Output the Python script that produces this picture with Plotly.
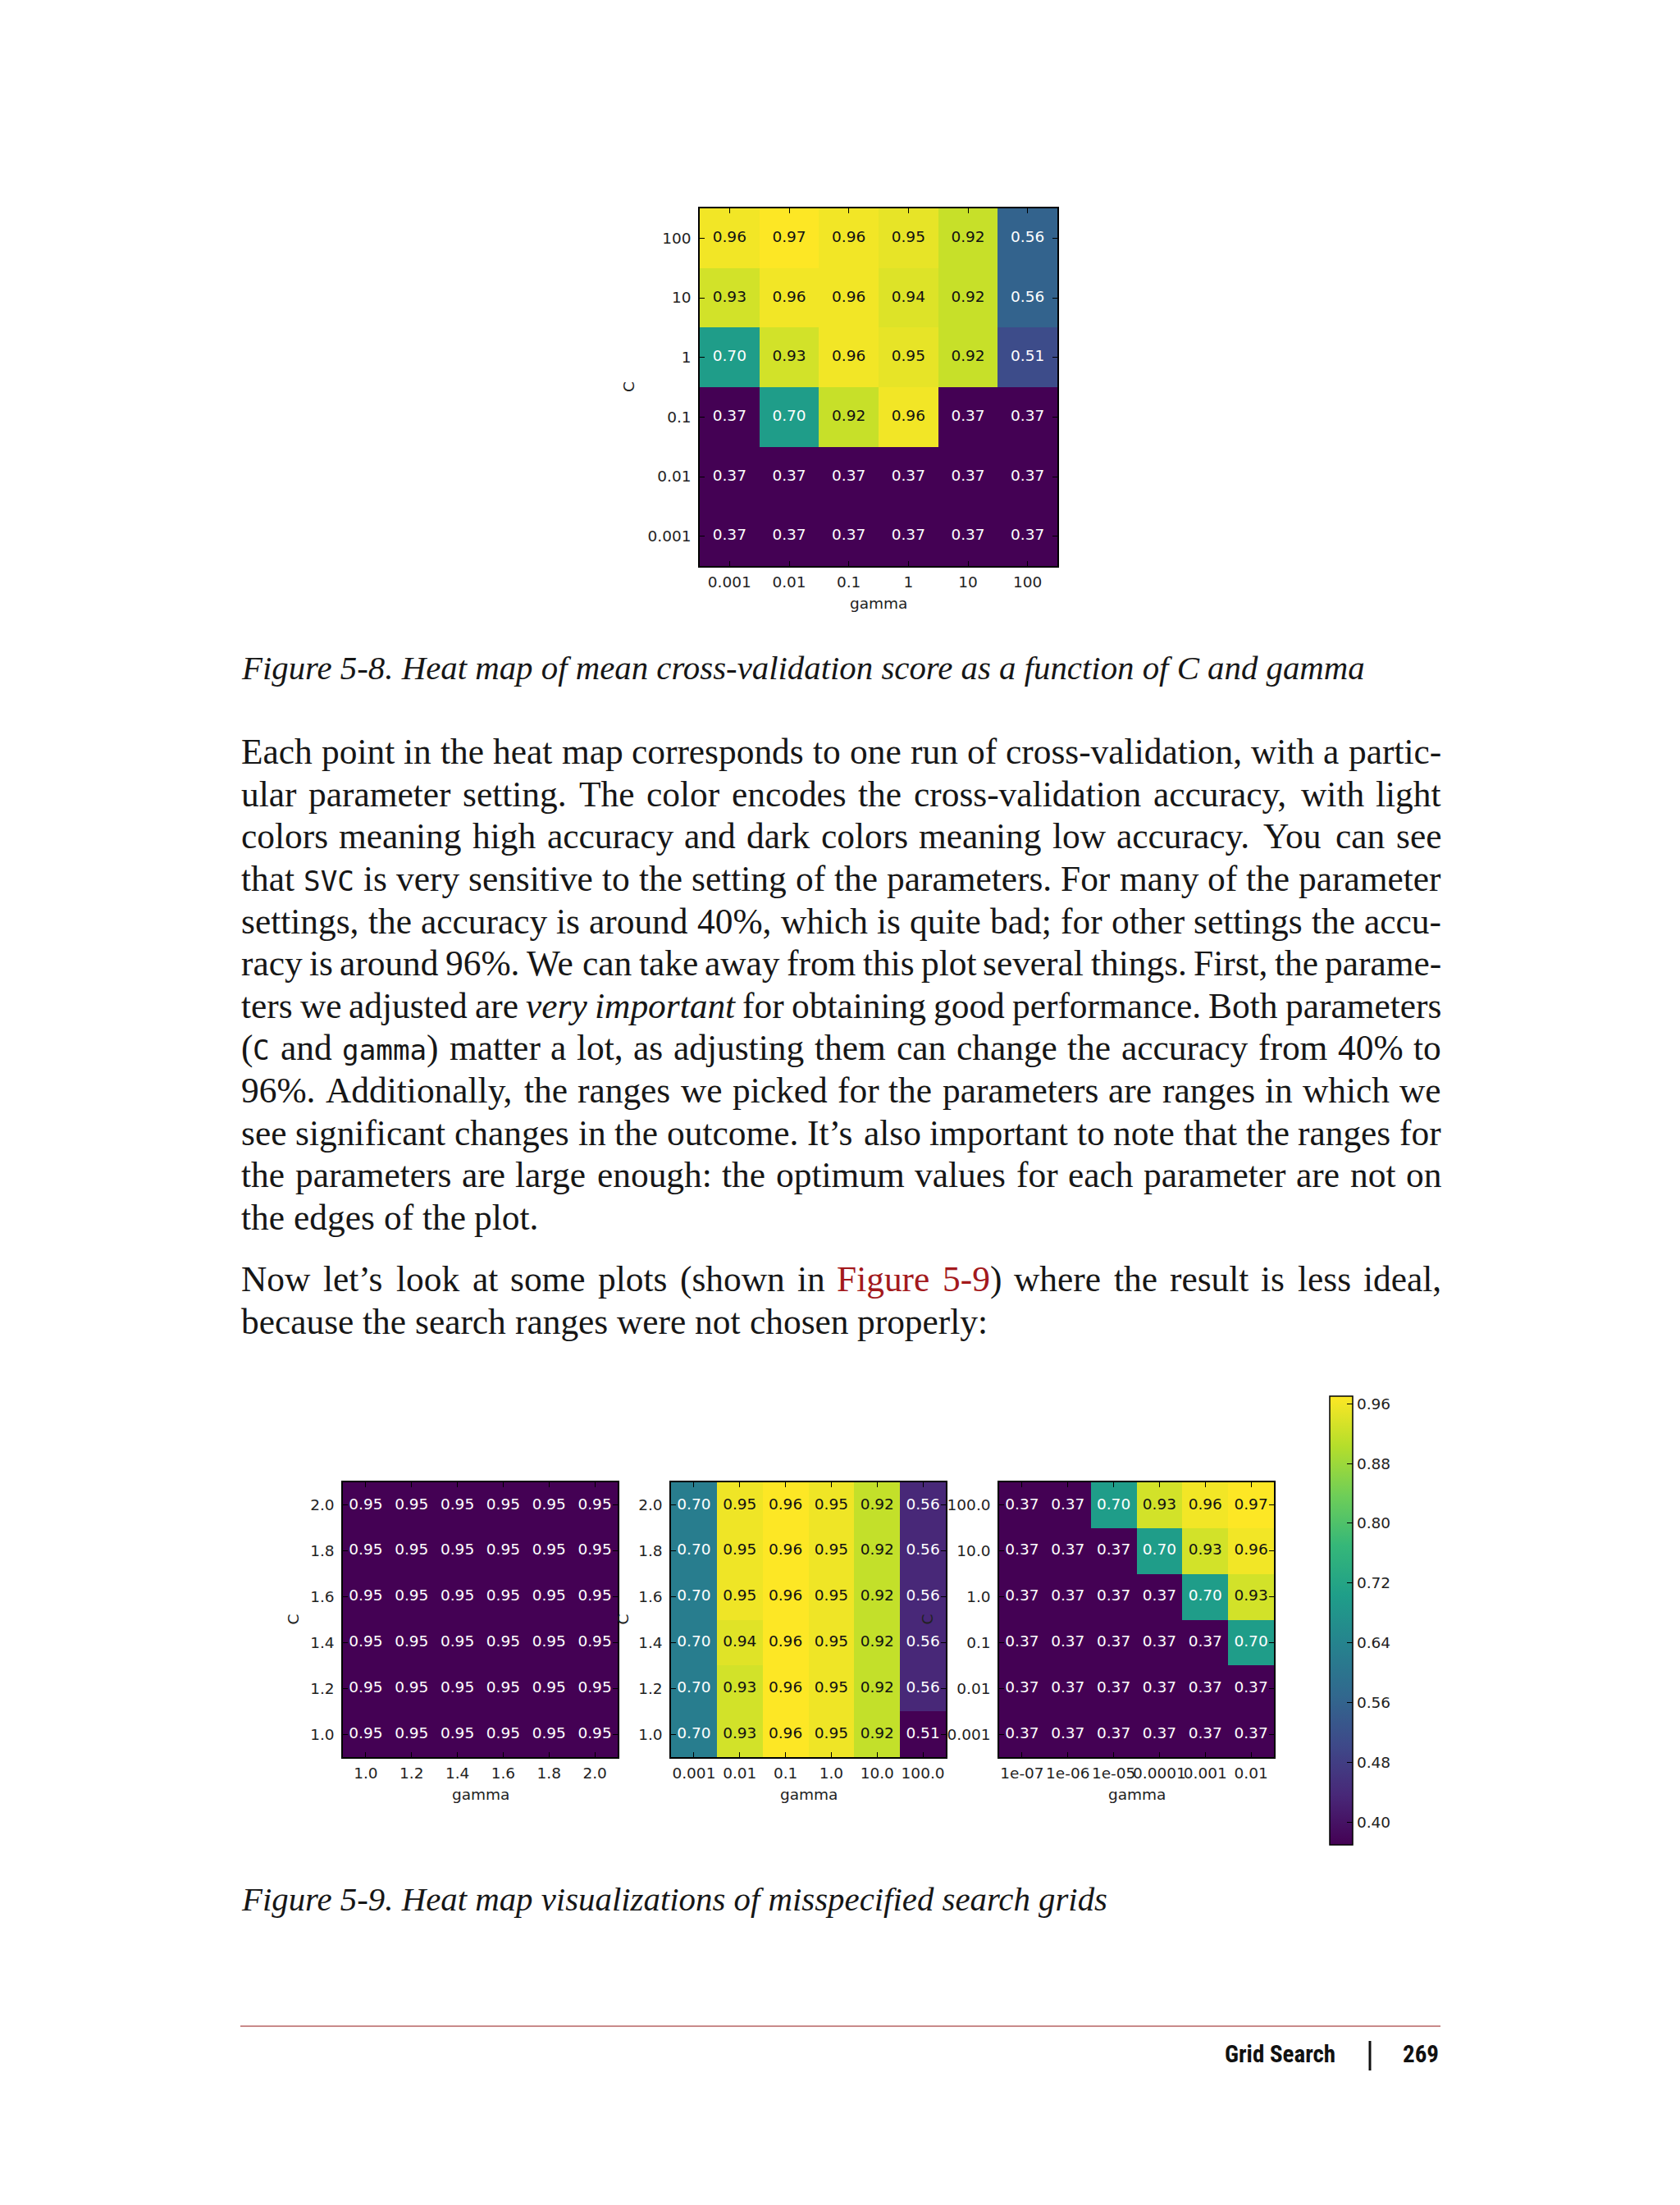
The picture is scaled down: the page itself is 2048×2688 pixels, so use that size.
import plotly.graph_objects as go
from plotly.colors import sample_colorscale

W, H = 2048, 2688
DX, DY = -8, -7   # global page offset in pixels

# ---------------- data ----------------
top_gamma = ["0.001", "0.01", "0.1", "1", "10", "100"]
top_C = ["0.001", "0.01", "0.1", "1", "10", "100"]          # bottom -> top
top_scores = [
    [0.37, 0.37, 0.37, 0.37, 0.37, 0.37],
    [0.37, 0.37, 0.37, 0.37, 0.37, 0.37],
    [0.37, 0.70, 0.92, 0.96, 0.37, 0.37],
    [0.70, 0.93, 0.96, 0.95, 0.92, 0.51],
    [0.93, 0.96, 0.96, 0.94, 0.92, 0.56],
    [0.96, 0.97, 0.96, 0.95, 0.92, 0.56],
]

lin_gamma = ["1.0", "1.2", "1.4", "1.6", "1.8", "2.0"]
lin_C = ["1.0", "1.2", "1.4", "1.6", "1.8", "2.0"]
lin_scores = [
    [0.95, 0.95, 0.95, 0.95, 0.95, 0.95],
    [0.95, 0.95, 0.95, 0.95, 0.95, 0.95],
    [0.95, 0.95, 0.95, 0.95, 0.95, 0.95],
    [0.95, 0.95, 0.95, 0.95, 0.95, 0.95],
    [0.95, 0.95, 0.95, 0.95, 0.95, 0.95],
    [0.95, 0.95, 0.95, 0.95, 0.95, 0.95],
]

mid_gamma = ["0.001", "0.01", "0.1", "1.0", "10.0", "100.0"]
mid_C = ["1.0", "1.2", "1.4", "1.6", "1.8", "2.0"]
mid_scores = [
    [0.70, 0.93, 0.96, 0.95, 0.92, 0.51],
    [0.70, 0.93, 0.96, 0.95, 0.92, 0.56],
    [0.70, 0.94, 0.96, 0.95, 0.92, 0.56],
    [0.70, 0.95, 0.96, 0.95, 0.92, 0.56],
    [0.70, 0.95, 0.96, 0.95, 0.92, 0.56],
    [0.70, 0.95, 0.96, 0.95, 0.92, 0.56],
]

log_gamma = ["1e-07", "1e-06", "1e-05", "0.0001", "0.001", "0.01"]
log_C = ["0.001", "0.01", "0.1", "1.0", "10.0", "100.0"]
log_scores = [
    [0.37, 0.37, 0.37, 0.37, 0.37, 0.37],
    [0.37, 0.37, 0.37, 0.37, 0.37, 0.37],
    [0.37, 0.37, 0.37, 0.37, 0.37, 0.70],
    [0.37, 0.37, 0.37, 0.37, 0.70, 0.93],
    [0.37, 0.37, 0.37, 0.70, 0.93, 0.96],
    [0.37, 0.37, 0.70, 0.93, 0.96, 0.97],
]

cbar_ticks = [0.40, 0.48, 0.56, 0.64, 0.72, 0.80, 0.88, 0.96]

caption1 = "Figure 5-8. Heat map of mean cross-validation score as a function of C and gamma"
caption2 = "Figure 5-9. Heat map visualizations of misspecified search grids"

para1 = [
    "Each point in the heat map corresponds to one run of cross-validation, with a partic-",
    "ular parameter setting. The color encodes the cross-validation accuracy, with light",
    "colors meaning high accuracy and dark colors meaning low accuracy. You can see",
    "that `SVC` is very sensitive to the setting of the parameters. For many of the parameter",
    "settings, the accuracy is around 40%, which is quite bad; for other settings the accu-",
    "racy is around 96%. We can take away from this plot several things. First, the parame-",
    "ters we adjusted are *very important* for obtaining good performance. Both parameters",
    "(`C` and `gamma`) matter a lot, as adjusting them can change the accuracy from 40% to",
    "96%. Additionally, the ranges we picked for the parameters are ranges in which we",
    "see significant changes in the outcome. It\u2019s also important to note that the ranges for",
    "the parameters are large enough: the optimum values for each parameter are not on",
    "the edges of the plot.",
]
para2 = [
    "Now let\u2019s look at some plots (shown in [Figure 5-9]) where the result is less ideal,",
    "because the search ranges were not chosen properly:",
]

footer_title = "Grid Search"
footer_page = "269"

# ---------------- helpers ----------------
def px(x):
    return (x + DX) / W


def py(y):
    return 1 - (y + DY) / H


TR = {' ': 250, '%': 833, '(': 333, ')': 333, ',': 250, '-': 333, '.': 250, ':': 278,
      ';': 278, '\u2019': 333, "'": 180,
      'A': 722, 'B': 667, 'C': 667, 'D': 722, 'E': 611, 'F': 556, 'G': 722, 'H': 722,
      'I': 333, 'J': 389, 'K': 722, 'L': 611, 'M': 889, 'N': 722, 'O': 722, 'P': 556,
      'Q': 722, 'R': 667, 'S': 556, 'T': 611, 'U': 722, 'V': 722, 'W': 944, 'X': 722,
      'Y': 722, 'Z': 611,
      'a': 444, 'b': 500, 'c': 444, 'd': 500, 'e': 444, 'f': 333, 'g': 500, 'h': 500,
      'i': 278, 'j': 278, 'k': 500, 'l': 278, 'm': 778, 'n': 500, 'o': 500, 'p': 500,
      'q': 500, 'r': 333, 's': 389, 't': 278, 'u': 500, 'v': 500, 'w': 722, 'x': 500,
      'y': 500, 'z': 444}
TI = {' ': 250, ',': 250, '-': 333, '.': 250, 'C': 667, 'F': 611, 'H': 722,
      'a': 500, 'b': 500, 'c': 444, 'd': 500, 'e': 444, 'f': 278, 'g': 500, 'h': 500,
      'i': 278, 'j': 278, 'k': 444, 'l': 278, 'm': 722, 'n': 500, 'o': 500, 'p': 500,
      'q': 500, 'r': 389, 's': 389, 't': 278, 'u': 500, 'v': 444, 'w': 667, 'x': 444,
      'y': 444, 'z': 389}
MONO_RATIO = 0.79
MONO_UNITS = 602 * MONO_RATIO


def units(text, mono=False, ital=False):
    if mono:
        return MONO_UNITS * len(text)
    tab = TI if ital else TR
    return sum(tab.get(ch, 500) for ch in text)


def parse_line(line, state):
    words = []
    for w in line.split(' '):
        runs = []
        cur = ''
        for ch in w:
            if ch in '`*[]':
                if cur:
                    runs.append((tuple(state), cur))
                    cur = ''
                if ch == '`':
                    state[0] = not state[0]
                elif ch == '*':
                    state[1] = not state[1]
                elif ch == '[':
                    state[2] = True
                else:
                    state[2] = False
            else:
                cur += ch
        if cur:
            runs.append((tuple(state), cur))
        words.append(runs)
    return words


def text_color(v, lo, hi):
    t = 0.0 if hi <= lo else (v - lo) / (hi - lo)
    c = sample_colorscale('Viridis', [max(0.0, min(1.0, t))])[0]
    r, g, b = [float(s) for s in c[c.index('(') + 1:-1].split(',')]
    return '#111111' if (r + g + b) / 3 > 127.5 else '#ffffff'


fig = go.Figure()
annotations = []
shapes = []

TICKFONT = dict(family='DejaVu Sans', size=18.5, color='#222222')

panels = [
    dict(g=top_gamma, c=top_C, z=top_scores, box=(853, 253, 1289, 689), gy=735, cx=766, cbar=False),
    dict(g=lin_gamma, c=lin_C, z=lin_scores, box=(418, 1806, 753, 2141), gy=2186, cx=357, cbar=False),
    dict(g=mid_gamma, c=mid_C, z=mid_scores, box=(818, 1806, 1153, 2141), gy=2186, cx=759, cbar=False),
    dict(g=log_gamma, c=log_C, z=log_scores, box=(1218, 1806, 1553, 2141), gy=2186, cx=1130, cbar=True),
]

layout_axes = {}
for i, p in enumerate(panels):
    sfx = '' if i == 0 else str(i + 1)
    x0, y0, x1, y1 = p['box']
    flat = [v for row in p['z'] for v in row]
    lo, hi = min(flat), max(flat)
    zmax = hi if hi > lo else lo + 1e-9
    hm = dict(z=p['z'], x=p['g'], y=p['c'], colorscale='Viridis', zmin=lo, zmax=zmax,
              xaxis='x' + sfx, yaxis='y' + sfx, hoverinfo='skip', showscale=p['cbar'])
    if p['cbar']:
        hm['colorbar'] = dict(
            x=px(1621), xanchor='left', y=py((1701 + 2248) / 2), yanchor='middle',
            len=547, lenmode='pixels', thickness=28, thicknessmode='pixels',
            xpad=0, ypad=0, outlinewidth=1.5, outlinecolor='black', borderwidth=0,
            ticks='inside', ticklen=7, tickwidth=1.2, tickcolor='black',
            tickvals=cbar_ticks, ticktext=[f"{t:.2f}" for t in cbar_ticks],
            tickfont=TICKFONT)
    fig.add_trace(go.Heatmap(**hm))

    xs, ys, ts, cs = [], [], [], []
    for r, cval in enumerate(p['c']):
        for k, gval in enumerate(p['g']):
            v = p['z'][r][k]
            xs.append(gval)
            ys.append(cval)
            ts.append(f"{v:.2f}")
            cs.append(text_color(v, lo, zmax))
    fig.add_trace(go.Scatter(x=xs, y=ys, text=ts, mode='text', textposition='middle center',
                             textfont=dict(family='DejaVu Sans', size=18.5, color=cs),
                             xaxis='x' + sfx, yaxis='y' + sfx, hoverinfo='skip',
                             showlegend=False))

    common = dict(type='category', categoryorder='array', range=[-0.5, 5.5],
                  showline=True, linecolor='black', linewidth=1.5, mirror='ticks',
                  ticks='inside', ticklen=6, tickwidth=1.2, tickcolor='black',
                  showgrid=False, zeroline=False, tickangle=0, tickfont=TICKFONT,
                  fixedrange=True)
    layout_axes['xaxis' + sfx] = dict(common, categoryarray=p['g'], domain=[px(x0), px(x1)],
                                      anchor='y' + sfx, ticklabelstandoff=2)
    layout_axes['yaxis' + sfx] = dict(common, categoryarray=p['c'], domain=[py(y1), py(y0)],
                                      anchor='x' + sfx, ticklabelstandoff=5)

    annotations.append(dict(x=px((x0 + x1) / 2), y=py(p['gy']), xref='paper', yref='paper',
                            text='gamma', showarrow=False, xanchor='center', yanchor='middle',
                            font=dict(family='DejaVu Sans', size=18.5, color='#222222')))
    annotations.append(dict(x=px(p['cx']), y=py((y0 + y1) / 2), xref='paper', yref='paper',
                            text='C', showarrow=False, xanchor='center', yanchor='middle',
                            textangle=-90,
                            font=dict(family='DejaVu Sans', size=18.5, color='#222222')))

# ---------------- body text (justified, word by word) ----------------
LEFT, RIGHT = 293, 1756
LINE_W = RIGHT - LEFT
SERIF = 'Liberation Serif, Times New Roman, serif'
MONO = 'DejaVu Sans Mono, monospace'
TEXT_COL = '#161616'
LINK_COL = '#a3191c'

state = [False, False, False]
parsed = []
for para, y_first, step in ((para1, 920, 51.6), (para2, 1563, 51.6)):
    for j, line in enumerate(para):
        words = parse_line(line, state)
        parsed.append((words, y_first + step * j, j < len(para) - 1))


def word_units(runs):
    return sum(units(t, mono=s[0], ital=s[1]) for s, t in runs)


fs_cands = [44.0]
for words, _, just in parsed:
    if just:
        tot = sum(word_units(w) for w in words)
        fs_cands.append(LINE_W * 1000 / (tot + 190 * (len(words) - 1)))
FS = min(fs_cands)
FS_M = FS * MONO_RATIO

for words, yc, just in parsed:
    widths = [word_units(w) * FS / 1000 for w in words]
    gap = (LINE_W - sum(widths)) / (len(words) - 1) if just else 0.25 * FS
    x = LEFT
    ybox = yc - 0.11 * FS
    for runs, wdt in zip(words, widths):
        for s, t in runs:
            mono, ital, link = s
            txt = f"<i>{t}</i>" if ital else t
            annotations.append(dict(
                x=px(x), y=py(ybox), xref='paper', yref='paper', text=txt,
                showarrow=False, xanchor='left', yanchor='middle', borderpad=0,
                yshift=-(FS - FS_M) * 0.3 if mono else 0,
                font=dict(family=MONO if mono else SERIF, size=FS_M if mono else FS,
                          color=LINK_COL if link else TEXT_COL)))
            x += units(t, mono=mono, ital=ital) * FS / 1000
        x += gap

# ---------------- captions ----------------
FS_CAP = 1374 * 1000 / units(caption1, ital=True)
for cap, yc in ((caption1, 818), (caption2, 2319)):
    annotations.append(dict(x=px(LEFT), y=py(yc - 0.11 * FS_CAP), xref='paper', yref='paper',
                            text=f"<i>{cap}</i>", showarrow=False, xanchor='left',
                            yanchor='middle', borderpad=0,
                            font=dict(family=SERIF, size=FS_CAP, color=TEXT_COL)))

# ---------------- footer ----------------
shapes.append(dict(type='line', xref='paper', yref='paper', x0=px(LEFT), x1=px(RIGHT),
                   y0=py(2469), y1=py(2469), line=dict(color='#c98a8a', width=2)))
shapes.append(dict(type='line', xref='paper', yref='paper', x0=px(1670), x1=px(1670),
                   y0=py(2487), y1=py(2523), line=dict(color='#111111', width=3)))
FOOT = 'Roboto Condensed, Noto Sans Condensed, Liberation Sans Narrow, Roboto, sans-serif'
annotations.append(dict(x=px(1629), y=py(2503), xref='paper', yref='paper',
                        text=f"<b>{footer_title}</b>", showarrow=False, xanchor='right',
                        yanchor='middle', borderpad=0,
                        font=dict(family=FOOT, size=29, color='#111111')))
annotations.append(dict(x=px(1755), y=py(2503), xref='paper', yref='paper',
                        text=f"<b>{footer_page}</b>", showarrow=False, xanchor='right',
                        yanchor='middle', borderpad=0,
                        font=dict(family=FOOT, size=29, color='#111111')))

fig.update_layout(
    width=W, height=H, autosize=False,
    margin=dict(l=0, r=0, t=0, b=0, pad=0),
    paper_bgcolor='white', plot_bgcolor='white',
    showlegend=False,
    annotations=annotations, shapes=shapes,
    **layout_axes,
)

fig.write_html("out.html")
